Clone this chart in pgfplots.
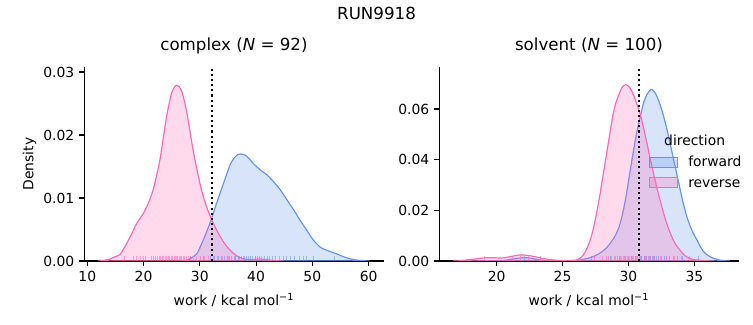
\documentclass[border=0pt]{standalone}
\usepackage{pgfplots}
\pgfplotsset{compat=1.18}
\usepackage{fontspec}
\setmainfont{DejaVu Sans}
\definecolor{fwd}{RGB}{100,149,237}
\definecolor{rev}{RGB}{255,105,180}
\pgfplotsset{
  base/.style={
    scale only axis, width=215.5bp, height=139.68bp,
    axis x line*=bottom, axis y line*=left,
    axis line style={line width=0.8bp, -},
    tick align=outside, major tick length=3.5bp,
    every tick/.style={line width=0.8bp, black},
    ymin=0,
    /pgf/number format/assume math mode=true,
    tick label style={font=\fontsize{10bp}{12bp}\selectfont},
    xticklabel style={inner sep=0pt, anchor=north, yshift=-3.5bp},
    yticklabel style={inner sep=0pt, anchor=east, xshift=-3.5bp,
      /pgf/number format/.cd, fixed, fixed zerofill, precision=2},
    scaled y ticks=false,
    title style={font=\fontsize{12bp}{14bp}\selectfont, at={(axis description cs:0.5,1)}, anchor=base, yshift=6.1bp, inner sep=0pt},
    xlabel style={font=\fontsize{10bp}{12bp}\selectfont, at={(axis description cs:0.5,0)}, anchor=base, yshift=-31.7bp, inner sep=0pt},
    ylabel style={font=\fontsize{10bp}{12bp}\selectfont, at={(axis description cs:-0.170,0.5)}, anchor=base, inner sep=0pt},
    xlabel={work / kcal mol\textsuperscript{\char"2212 1}},
  },
  kdeline/.style={line width=0.85bp, smooth, tension=0.45},
  rug/.style={ycomb, no marks, line width=0.6bp, opacity=0.55, forget plot},
}
\begin{document}
\begin{tikzpicture}
\useasboundingbox (0,0) rectangle (542.16bp,234bp);
\node[anchor=base, inner sep=0pt, font=\fontsize{12bp}{14bp}\selectfont] at (271.1bp,220.3bp) {RUN9918};
% ---------------- complex ----------------
\begin{axis}[base, at={(60.7bp,46.08bp)}, anchor=south west,
  xmin=9.47, xmax=62.67, ymax=0.0308,
  xtick={10,20,30,40,50,60}, ytick={0,0.01,0.02,0.03},
  title={complex (\textit{N} = 92)}, ylabel={Density}]
\addplot[kdeline, draw=fwd, fill=fwd, fill opacity=0.25] coordinates {
(26.5,0)(27.7,0.0001)(28.5,0.0005)(29.5,0.0012)(30.6,0.0033)(31.8,0.006)(33,0.0092)(34.2,0.0123)(35.4,0.0153)(36,0.0162)(36.6,0.0168)(37.2,0.017)(37.8,0.0169)(38.4,0.0166)(39.5,0.0155)(40.7,0.0145)(41.9,0.0137)(43.1,0.0126)(44.3,0.0113)(45.5,0.0097)(46.7,0.0081)(47.8,0.0065)(49,0.0049)(50.2,0.0033)(51.4,0.0022)(52.3,0.0018)(53.2,0.0015)(54.4,0.0011)(55.2,0.0008)(56.1,0.0005)(57,0.00028)(57.9,0.00016)(59,0.00005)(60.2,0)
} \closedcycle;
\addplot[kdeline, draw=rev, fill=rev, fill opacity=0.25] coordinates {
(11.9,0)(12.5,0.00003)(13.5,0.0002)(14,0.0003)(15,0.0007)(15.8,0.001)(16.5,0.002)(17,0.0028)(18,0.0045)(18.8,0.006)(20,0.0076)(21,0.0095)(21.7,0.0113)(22.3,0.0135)(22.9,0.016)(23.5,0.0195)(24.1,0.023)(24.6,0.0252)(25,0.0267)(25.5,0.0276)(25.9,0.0279)(26.3,0.0277)(26.8,0.0269)(27.2,0.0256)(27.7,0.0235)(28.2,0.0209)(28.6,0.0187)(29.0,0.0167)(29.5,0.0145)(30.3,0.0113)(31.2,0.0086)(32.4,0.006)(33.6,0.0039)(34.8,0.0023)(36,0.0012)(37,0.0006)(38,0.0003)(39,0.0002)(40,0.0003)(41,0.0003)(42,0.0002)(43.5,0.00005)(45,0)
} \closedcycle;
\addplot[rug, fwd] coordinates {
(28.3,0.00077)(30.6,0.00077)(31.9,0.00077)(32.6,0.00077)(33.3,0.00077)(33.9,0.00077)(34.4,0.00077)(34.9,0.00077)(35.3,0.00077)(35.7,0.00077)(36.1,0.00077)(36.4,0.00077)(36.8,0.00077)(37.1,0.00077)(37.4,0.00077)(37.7,0.00077)(38.0,0.00077)(38.3,0.00077)(38.6,0.00077)(39.0,0.00077)(39.4,0.00077)(39.8,0.00077)(40.2,0.00077)(40.6,0.00077)(41.0,0.00077)(41.5,0.00077)(42.0,0.00077)(42.4,0.00077)(42.9,0.00077)(43.5,0.00077)(44.1,0.00077)(44.8,0.00077)(45.4,0.00077)(46.1,0.00077)(46.9,0.00077)(47.7,0.00077)(48.4,0.00077)(49.0,0.00077)(50.2,0.00077)(53.9,0.00077)
};
\addplot[rug, rev] coordinates {
(16.6,0.00077)(18.2,0.00077)(18.7,0.00077)(19.4,0.00077)(19.9,0.00077)(20.3,0.00077)(21.4,0.00077)(21.8,0.00077)(22.1,0.00077)(22.5,0.00077)(22.8,0.00077)(23.0,0.00077)(23.3,0.00077)(23.6,0.00077)(23.9,0.00077)(24.1,0.00077)(24.4,0.00077)(24.6,0.00077)(24.9,0.00077)(25.1,0.00077)(25.4,0.00077)(25.6,0.00077)(25.8,0.00077)(26.0,0.00077)(26.3,0.00077)(26.5,0.00077)(26.8,0.00077)(27.1,0.00077)(27.3,0.00077)(27.6,0.00077)(28.0,0.00077)(28.3,0.00077)(28.9,0.00077)(29.4,0.00077)(30.1,0.00077)(30.8,0.00077)(31.5,0.00077)(32.4,0.00077)(33.2,0.00077)(34.0,0.00077)(35.1,0.00077)(36.3,0.00077)(39.8,0.00077)
};
\addplot[black, line width=1.5bp, dash pattern=on 1.5bp off 2.2bp, forget plot] coordinates {(32.2,0)(32.2,0.0308)};
\end{axis}
% ---------------- solvent ----------------
\begin{axis}[base, at={(316.3bp,46.08bp)}, anchor=south west,
  xmin=15.65, xmax=38.36, ymax=0.0766,
  xtick={20,25,30,35}, ytick={0,0.02,0.04,0.06},
  title={solvent (\textit{N} = 100)},
  legend image code/.code={\draw[#1] (0bp,-0.4bp) rectangle (19.7bp,6.8bp);},
  legend style={draw=none, fill=none, inner sep=0pt, outer sep=0pt,
    at={(rel axis cs:0.7016,0.540)}, anchor=north west,
    font=\fontsize{10bp}{12bp}\selectfont,
    cells={anchor=base west},
    nodes={inner sep=0pt, text height=7.5bp, text depth=2.5bp},
    row sep=4.8bp,
    /tikz/every odd column/.append style={column sep=7.5bp}},
  ]
\addplot[kdeline, draw=fwd, fill=fwd, fill opacity=0.25] coordinates {
(18.5,0)(19.5,0.0001)(20.3,0.0002)(20.8,0.0004)(21.3,0.0008)(21.8,0.0012)(22.3,0.0013)(22.8,0.0009)(23.3,0.0004)(23.8,0.0001)(24.5,0.0)(25.5,0.0001)(26.3,0.0004)(26.8,0.0009)(27.3,0.0017)(27.8,0.003)(28.3,0.005)(28.8,0.0083)(29.05,0.0105)(29.3,0.0136)(29.55,0.0185)(29.8,0.025)(30.05,0.033)(30.35,0.0426)(30.6,0.050)(30.9,0.057)(31.15,0.0625)(31.4,0.0657)(31.7,0.0677)(31.9,0.0672)(32.1,0.0657)(32.35,0.0625)(32.6,0.0584)(32.85,0.0535)(33.1,0.0479)(33.35,0.042)(33.6,0.036)(33.85,0.030)(34.1,0.0241)(34.35,0.019)(34.6,0.0149)(34.9,0.0112)(35.2,0.0083)(35.45,0.0057)(35.7,0.0037)(35.95,0.0025)(36.2,0.0017)(36.5,0.001)(36.9,0.0004)(37.3,0.0001)(37.7,0)
} \closedcycle;
\addlegendentry{forward}
\addplot[kdeline, draw=rev, fill=rev, fill opacity=0.25] coordinates {
(16.7,0)(17.2,0.0001)(17.7,0.0004)(18.2,0.0007)(18.7,0.001)(19.2,0.0013)(19.7,0.0013)(20.25,0.0012)(20.6,0.0013)(21,0.0017)(21.4,0.0021)(21.8,0.0024)(22.2,0.0023)(22.5,0.0021)(23,0.0016)(23.5,0.001)(24,0.0006)(24.5,0.0003)(25,0.0001)(25.8,0.0001)(26.1,0.0004)(26.3,0.001)(26.55,0.0022)(26.8,0.0044)(27.05,0.0075)(27.3,0.012)(27.55,0.018)(27.8,0.025)(28.05,0.033)(28.3,0.041)(28.55,0.049)(28.8,0.057)(29.05,0.0625)(29.3,0.066)(29.55,0.0688)(29.8,0.0696)(30.05,0.0688)(30.35,0.066)(30.6,0.0625)(30.9,0.058)(31.15,0.0525)(31.4,0.0466)(31.65,0.0405)(31.9,0.0347)(32.15,0.029)(32.4,0.0241)(32.65,0.0192)(32.9,0.0149)(33.15,0.0113)(33.4,0.0083)(33.65,0.006)(33.9,0.0044)(34.15,0.0028)(34.4,0.0017)(34.8,0.0008)(35.2,0.0004)(35.9,0.0001)(36.5,0)
} \closedcycle;
\addlegendentry{reverse}
\addplot[rug, fwd] coordinates {
(22.1,0.0019)(27.2,0.0019)(28.6,0.0019)(29.3,0.0019)(29.8,0.0019)(30.2,0.0019)(30.5,0.0019)(30.7,0.0019)(30.9,0.0019)(31.0,0.0019)(31.2,0.0019)(31.3,0.0019)(31.4,0.0019)(31.5,0.0019)(31.6,0.0019)(31.7,0.0019)(31.8,0.0019)(31.9,0.0019)(32.0,0.0019)(32.1,0.0019)(32.3,0.0019)(32.5,0.0019)(32.7,0.0019)(32.9,0.0019)(33.1,0.0019)(33.4,0.0019)(33.7,0.0019)(34.1,0.0019)(34.6,0.0019)(35.3,0.0019)
};
\addplot[rug, rev] coordinates {
(19.1,0.0019)(21.2,0.0019)(21.8,0.0019)(22.4,0.0019)(23.3,0.0019)(27.4,0.0019)(28.0,0.0019)(28.3,0.0019)(28.5,0.0019)(28.7,0.0019)(28.9,0.0019)(29.0,0.0019)(29.2,0.0019)(29.3,0.0019)(29.4,0.0019)(29.5,0.0019)(29.6,0.0019)(29.7,0.0019)(29.8,0.0019)(29.9,0.0019)(30.0,0.0019)(30.1,0.0019)(30.2,0.0019)(30.3,0.0019)(30.4,0.0019)(30.5,0.0019)(30.6,0.0019)(30.8,0.0019)(31.0,0.0019)(31.2,0.0019)(31.4,0.0019)(31.7,0.0019)(32.0,0.0019)(32.4,0.0019)(32.9,0.0019)(33.5,0.0019)(34.0,0.0019)
};
\addplot[black, line width=1.5bp, dash pattern=on 1.5bp off 2.2bp, forget plot] coordinates {(30.8,0)(30.8,0.0766)};
\node[anchor=base, inner sep=0pt, font=\fontsize{10bp}{12bp}\selectfont] at (rel axis cs:0.853,0.594) {direction};
\end{axis}
\end{tikzpicture}
\end{document}
